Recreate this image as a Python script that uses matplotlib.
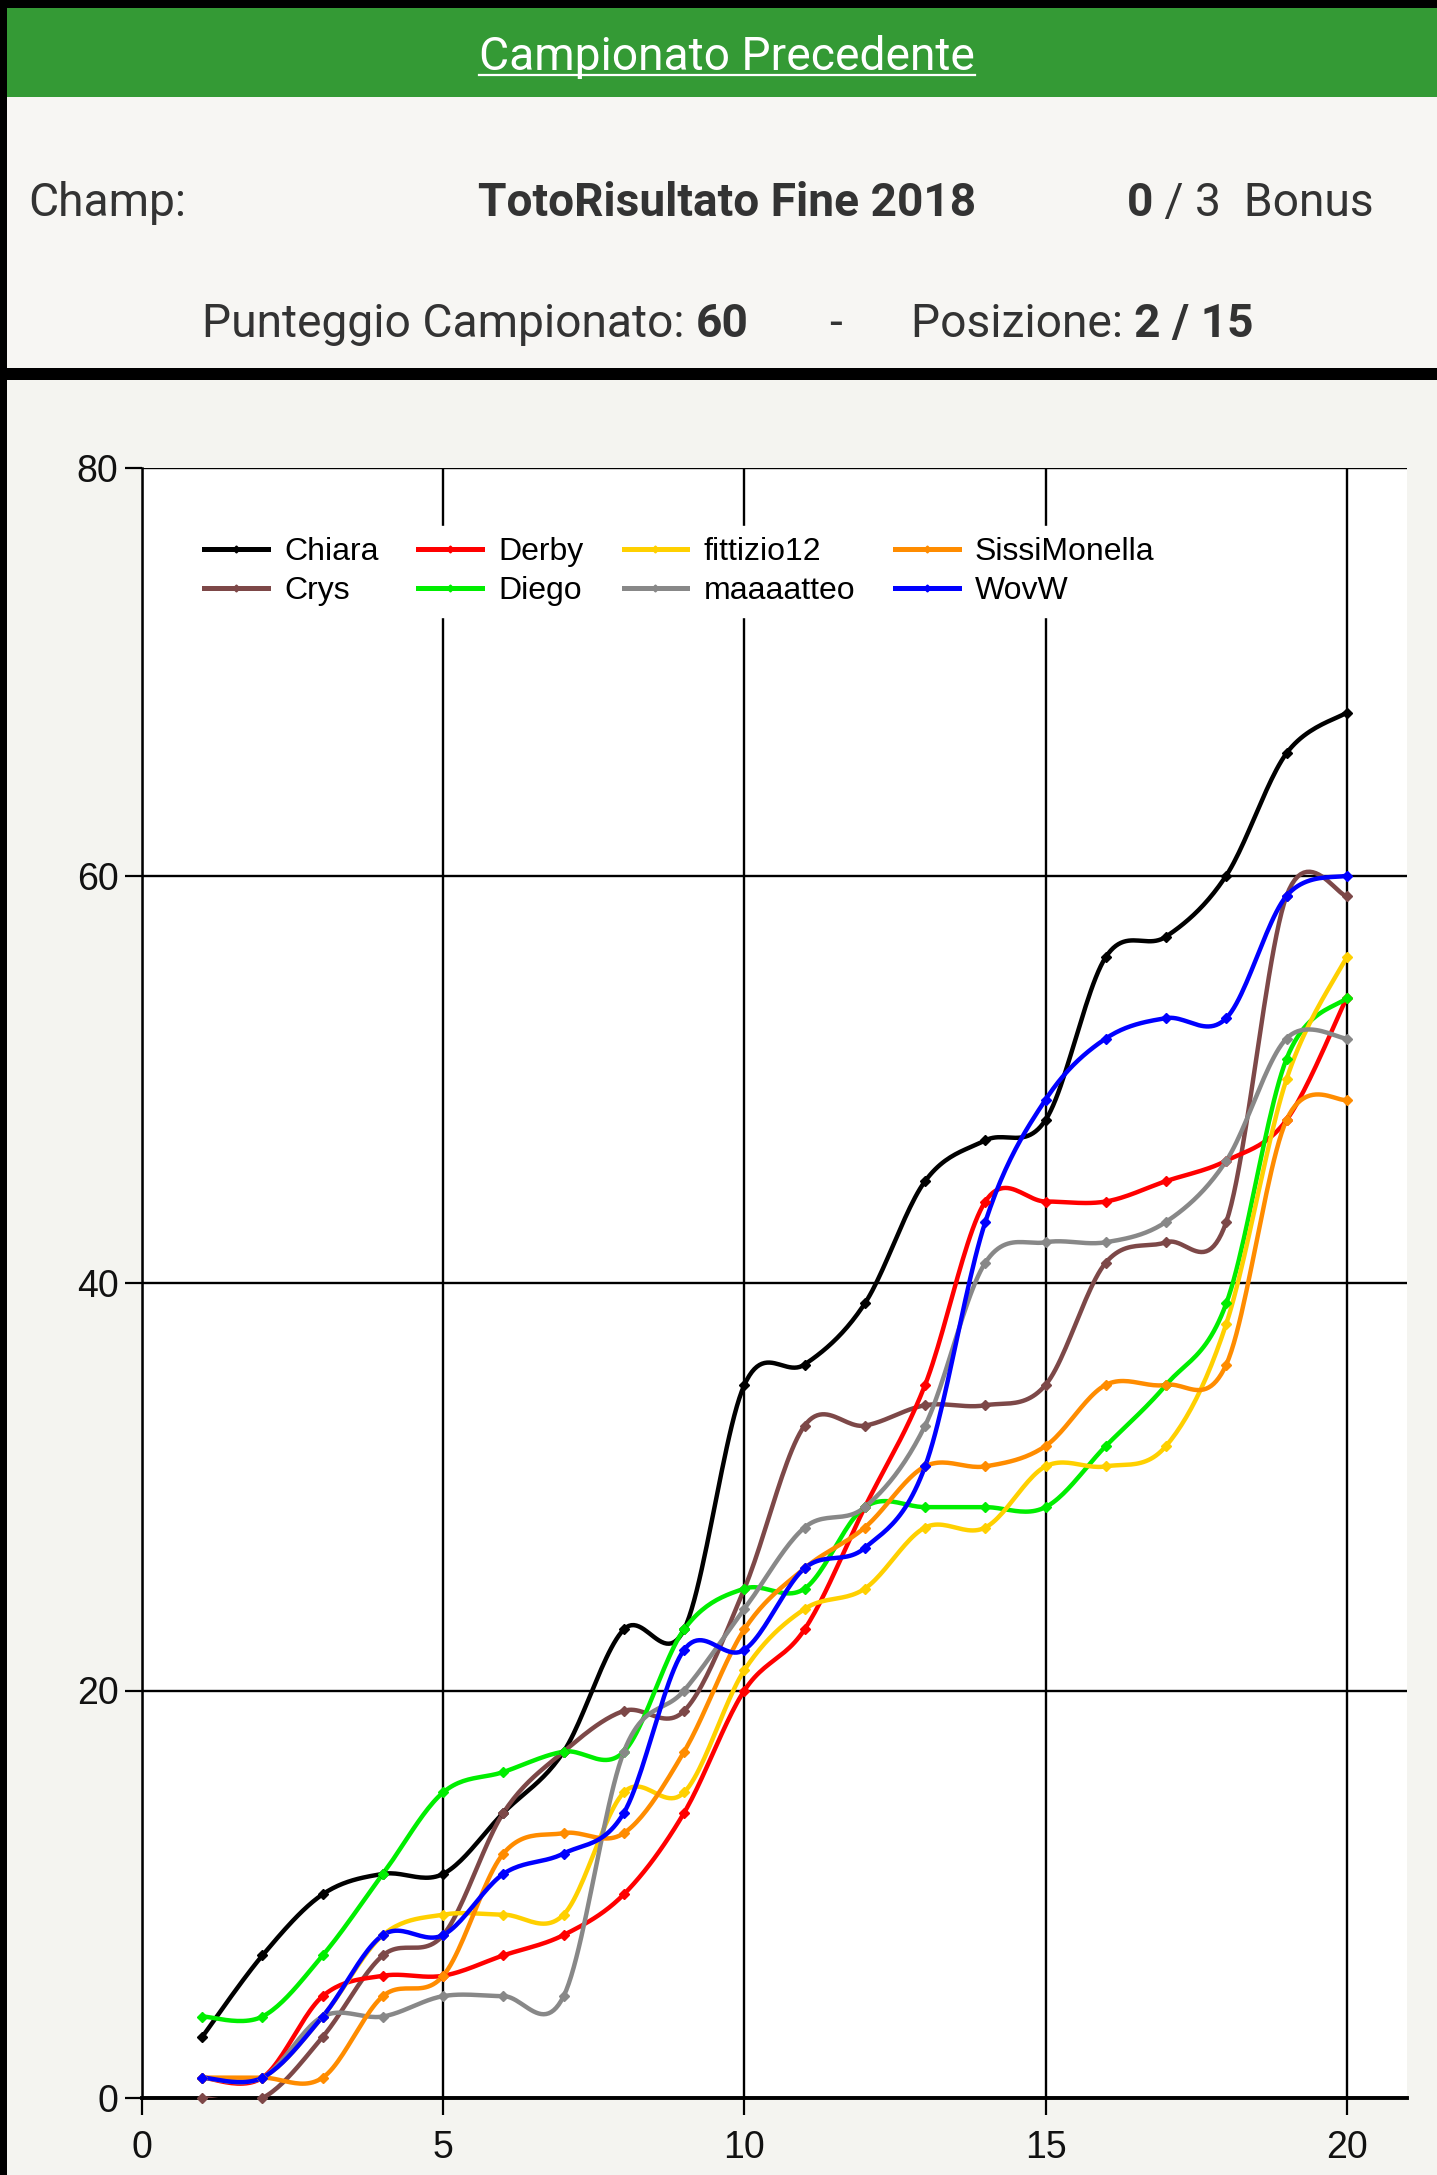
import numpy as np
import matplotlib
matplotlib.use("Agg")
import matplotlib.pyplot as plt
from matplotlib import font_manager
from matplotlib.patches import Rectangle
from matplotlib.lines import Line2D

# ---------------- data ----------------
giornate = list(range(1, 21))
players = ["Chiara", "Crys", "Derby", "Diego", "fittizio12", "maaaatteo", "SissiMonella", "WovW"]
chiara = [3, 7, 10, 11, 11, 14, 17, 23, 23, 35, 36, 39, 45, 47, 48, 56, 57, 60, 66, 68]
crys = [0, 0, 3, 7, 8, 14, 17, 19, 19, 25, 33, 33, 34, 34, 35, 41, 42, 43, 59, 59]
derby = [1, 1, 5, 6, 6, 7, 8, 10, 14, 20, 23, 29, 35, 44, 44, 44, 45, 46, 48, 54]
diego = [4, 4, 7, 11, 15, 16, 17, 17, 23, 25, 25, 29, 29, 29, 29, 32, 35, 39, 51, 54]
fittizio12 = [1, 1, 4, 8, 9, 9, 9, 15, 15, 21, 24, 25, 28, 28, 31, 31, 32, 38, 50, 56]
maaaatteo = [1, 1, 4, 4, 5, 5, 5, 17, 20, 24, 28, 29, 33, 41, 42, 42, 43, 46, 52, 52]
sissimonella = [1, 1, 1, 5, 6, 12, 13, 13, 17, 23, 26, 28, 31, 31, 32, 35, 35, 36, 48, 49]
wovw = [1, 1, 4, 8, 8, 11, 12, 14, 22, 22, 26, 27, 31, 43, 49, 52, 53, 53, 59, 60]
series = [chiara, crys, derby, diego, fittizio12, maaaatteo, sissimonella, wovw]
colors = ["#000000", "#7d4848", "#ff0000", "#00ee00", "#ffd000", "#888888", "#ff8c00", "#0000ff"]
x_ticks = [0, 5, 10, 15, 20]
y_ticks = [0, 20, 40, 60, 80]

# ---------------- fonts ----------------
def have(fam):
    try:
        font_manager.findfont(font_manager.FontProperties(family=fam), fallback_to_default=False)
        return True
    except Exception:
        return False

if have("Liberation Sans Narrow"):
    CF = "Liberation Sans Narrow"; TICK_FS = 29; LEG_FS = 26
else:
    CF = "Liberation Sans"; TICK_FS = 27; LEG_FS = 23
HF = "Roboto" if have("Roboto") else "DejaVu Sans"
HS = 33.2
TXT = "#333333"

W, H = 1437, 2175
fig = plt.figure(figsize=(W / 100, H / 100), dpi=100, facecolor="#f4f4f0")

def fx(x):
    return x / W

def fy(y):
    return 1 - y / H

def rect(x0, y0, x1, y1, color):
    fig.add_artist(Rectangle((fx(x0), fy(y1)), fx(x1) - fx(x0), fy(y0) - fy(y1),
                             transform=fig.transFigure, facecolor=color, edgecolor="none", zorder=0))

# header blocks
rect(0, 0, W, 8, "#000000")
rect(0, 8, W, 97, "#349a35")
rect(0, 97, W, 368, "#f7f6f3")
rect(0, 368, W, 380, "#000000")
rect(0, 0, 7, H, "#000000")

hax = fig.add_axes([0, 0, 1, 1], facecolor="none")
hax.set_xlim(0, 1); hax.set_ylim(0, 1); hax.axis("off")

title = hax.text(fx(727), fy(57), "Campionato Precedente", ha="center", va="center",
                 fontsize=HS, family=HF, color="white")

# row 1
R1 = 203
hax.text(fx(28), fy(R1), "Champ:", ha="left", va="center", fontsize=HS, family=HF, color=TXT)
hax.text(fx(727), fy(R1), "TotoRisultato Fine 2018", ha="center", va="center", fontsize=HS,
         family=HF, weight="bold", color=TXT)
b0 = hax.text(fx(1127), fy(R1), "0", ha="left", va="center", fontsize=HS, family=HF,
              weight="bold", color=TXT)
hax.annotate(" / 3  Bonus", xy=(1, 0), xycoords=b0, ha="left", va="bottom", fontsize=HS,
             family=HF, color=TXT)

# row 2
R2 = 324
p1 = hax.text(fx(202), fy(R2), "Punteggio Campionato: ", ha="left", va="center", fontsize=HS,
              family=HF, color=TXT)
hax.annotate("60", xy=(1, 0), xycoords=p1, ha="left", va="bottom", fontsize=HS, family=HF,
             weight="bold", color=TXT)
hax.text(fx(835), fy(R2), "-", ha="center", va="center", fontsize=HS, family=HF, color=TXT)
p2 = hax.text(fx(911), fy(R2), "Posizione: ", ha="left", va="center", fontsize=HS, family=HF,
              color=TXT)
hax.annotate("2 / 15", xy=(1, 0), xycoords=p2, ha="left", va="bottom", fontsize=HS, family=HF,
             weight="bold", color=TXT)

# ---------------- chart ----------------
L, R, T, B = 142, 1407, 468, 2098
ax = fig.add_axes([fx(L), fy(B), fx(R) - fx(L), fy(T) - fy(B)], facecolor="white")
ax.set_xlim(0, 21)
ax.set_ylim(0, 80)


def cardinal(xs, ys, tension=0.5, n=24):
    P = np.column_stack([xs, ys]).astype(float)
    N = len(P)
    pts = []
    for i in range(N - 1):
        p0, p3 = P[i], P[i + 1]
        prev = P[i - 1] if i > 0 else P[i]
        nxt = P[i + 2] if i + 2 < N else P[i + 1]
        c1 = p0 + tension * (p3 - prev) / 3
        c2 = p3 - tension * (nxt - p0) / 3
        t = np.linspace(0, 1, n, endpoint=(i == N - 2))[:, None]
        seg = ((1 - t) ** 3) * p0 + 3 * ((1 - t) ** 2) * t * c1 + 3 * (1 - t) * t ** 2 * c2 + t ** 3 * p3
        pts.append(seg)
    pts = np.vstack(pts)
    return pts[:, 0], pts[:, 1]


for name, vals, col in zip(players, series, colors):
    sx, sy = cardinal(giornate, vals)
    ax.plot(sx, sy, color=col, lw=3.2, solid_capstyle="round", solid_joinstyle="round", zorder=3)
    ax.plot(giornate, vals, linestyle="none", marker="D", ms=5, color=col, zorder=4, clip_on=False)

handles = [Line2D([0], [0], color=c, lw=3.6, marker="D", ms=3.5) for c in colors]
leg = ax.legend(handles, players, loc="upper left",
                bbox_to_anchor=((193 - L) / (R - L), 1 - (526 - T) / (B - T)),
                ncol=4, frameon=True, fancybox=False, framealpha=1, facecolor="white",
                edgecolor="white", borderpad=0.35, handlelength=2.0, handletextpad=0.5,
                columnspacing=1.25, labelspacing=0.28, borderaxespad=0,
                prop={"family": CF, "size": LEG_FS})
leg.set_zorder(5)

ax.set_xticks(x_ticks)
ax.set_yticks(y_ticks)
ax.grid(True, color="black", lw=1.7, zorder=1)
ax.set_axisbelow(True)
for s in ["top", "right"]:
    ax.spines[s].set_visible(False)
ax.spines["left"].set_linewidth(1.8)
ax.spines["bottom"].set_linewidth(2.8)
ax.tick_params(axis="both", direction="out", length=12, width=1.6, colors="black",
               labelsize=TICK_FS)
ax.tick_params(axis="x", pad=11)
ax.tick_params(axis="y", pad=5)
for lab in ax.get_xticklabels() + ax.get_yticklabels():
    lab.set_family(CF)
    lab.set_color("#111111")

# underline for the title
fig.canvas.draw()
bb = title.get_window_extent()
inv = fig.transFigure.inverted()
(x0, _), (x1, _) = inv.transform([(bb.x0, 0), (bb.x1, 0)])
fig.add_artist(Line2D([x0, x1], [fy(75), fy(75)], color="white", lw=1.6, transform=fig.transFigure))

fig.savefig("out.png", dpi=100, facecolor=fig.get_facecolor())
